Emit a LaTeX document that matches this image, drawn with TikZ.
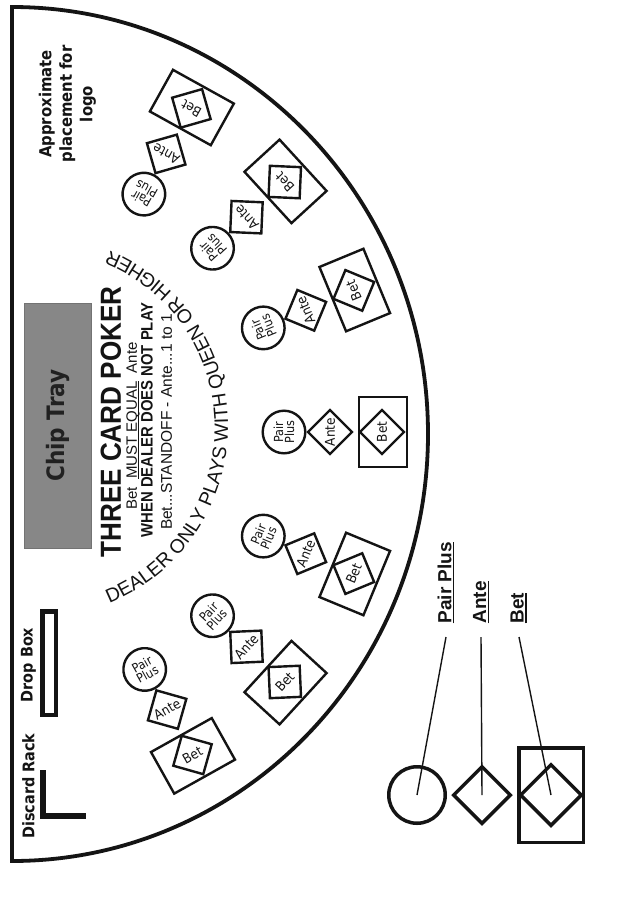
\documentclass[tikz,border=0pt]{standalone}
\usepackage{fontspec}
\setmainfont{Liberation Sans}
\newfontfamily\tah[FakeStretch=0.9]{DejaVu Sans}
\newfontfamily\narrowb[FakeStretch=0.9]{Liberation Sans}
\usetikzlibrary{shapes.geometric,decorations.text}
\definecolor{traygray}{gray}{0.53}
\definecolor{ink}{gray}{0.08}
\newcommand{\thickul}[2]{\setbox0\hbox{#2}\rlap{\rule[-#1]{\wd0}{1.4pt}}\box0}
\newcommand{\betspot}[2]{%
  \node[ppcirc, rotate=#1+90] (pp#2) at ([shift={(#1:272)}]O) {Pair\\Plus};
  \node[antedia, rotate=#1+90] (ante#2) at ([shift={(#1:318)}]O) {Ante};
  \node[betrect, rotate=#1+90] (betbox#2) at ([shift={(#1:371)}]O) {};
  \node[betdia, rotate=#1+90] (bet#2) at ([shift={(#1:370)}]O) {Bet};
}
\begin{document}
\begin{tikzpicture}[x=1pt,y=1pt,
  spotline/.style={draw=ink, line width=2.4, inner sep=0pt, text=ink},
  ppcirc/.style={spotline, circle, minimum size=42.6, align=center, font=\tah\fontsize{12.5}{11}\selectfont},
  antedia/.style={spotline, diamond, minimum size=45, font=\tah\fontsize{13.5}{13}\selectfont},
  betrect/.style={spotline, rectangle, minimum width=69.6, minimum height=47.6},
  betdia/.style={spotline, diamond, minimum size=45, font=\tah\fontsize{13.5}{13}\selectfont},
  legline/.style={draw=ink, line width=3.5, inner sep=0pt},
  leglabel/.style={rotate=90, anchor=west, text=ink, font=\bfseries\fontsize{19}{20}\selectfont},
  vtext/.style={rotate=90, text=ink, inner sep=0pt}
]
\useasboundingbox (0,0) rectangle (639,-899);
\fill[white] (0,0) rectangle (639,-899);
\coordinate (O) at (12,-432);
\coordinate (C) at (38,-427);
% table outline
\draw[ink, line width=3.8] (12,-7) -- (12,-861)
  arc[start angle=-90, end angle=90, x radius=416, y radius=427] -- cycle;
% chip tray
\node[rotate=90, fill=traygray, draw=traygray!85!black, line width=0.6,
  minimum width=245, minimum height=67, inner sep=0pt,
  text={rgb,1:red,0.13;green,0.13;blue,0.13},
  font=\tah\bfseries\fontsize{24}{24}\selectfont] (tray) at (57.5,-425.5) {Chip Tray};
% title block
\node[vtext, font=\narrowb\bfseries\fontsize{29}{30}\selectfont] (title) at (111,-422) {THREE CARD POKER};
\node[vtext, font=\fontsize{15}{16}\selectfont] (must) at (133,-426) {Bet\ \ \thickul{2.6pt}{MUST EQUAL}\ \ Ante};
\node[vtext, font=\narrowb\bfseries\fontsize{16.5}{18}\selectfont] (when) at (147,-420) {WHEN DEALER DOES NOT PLAY};
\node[vtext, font=\fontsize{15.5}{16}\selectfont] (standoff) at (166.5,-422) {Bet...STANDOFF - Ante...1 to 1};
% curved text
\path[decorate, decoration={text along path, text align=center,
  text color=ink,
  text={|\fontsize{19.5}{19.5}\selectfont|DEALER ONLY PLAYS WITH QUEEN OR HIGHER}}]
  ([shift={(-69:190)}]C) arc[start angle=-69, end angle=69, radius=190];
% logo text
\node[vtext, align=center, font=\tah\bfseries\fontsize{16.5}{20.5}\selectfont] (logo) at (67.5,-104) {Approximate\\placement for\\logo};
% drop box and discard rack
\node[draw=ink, line width=4.5, minimum width=13.5, minimum height=103.5, inner sep=0pt] (dropbox) at (49,-663) {};
\node[vtext, font=\tah\bfseries\fontsize{16}{16}\selectfont] (droplbl) at (28.5,-665) {Drop Box};
\draw[ink, line width=6] (43,-770) -- (43,-816) -- (86,-816);
\node[vtext, font=\tah\bfseries\fontsize{16}{16}\selectfont] (discardlbl) at (28.5,-786) {Discard Rack};
% betting spots
\betspot{61}{1}
\betspot{42.5}{2}
\betspot{22.5}{3}
\betspot{0}{4}
\betspot{-22.5}{5}
\betspot{-42.5}{6}
\betspot{-60.8}{7}
% legend
\node[legline, circle, minimum size=56.5] (legpp) at (417,-795) {};
\node[legline, diamond, minimum size=58] (legante) at (482,-795) {};
\node[legline, rectangle, minimum width=64.5, minimum height=94.5] (legbetbox) at (551,-795) {};
\node[legline, diamond, minimum size=62] (legbet) at (551,-795) {};
\node[leglabel] (lblpp) at (446,-627) {\thickul{3pt}{Pair Plus}};
\node[leglabel] (lblante) at (481,-627) {\thickul{3pt}{Ante}};
\node[leglabel] (lblbet) at (518.5,-627) {\thickul{3pt}{Bet}};
\coordinate (ppstart) at (446,-637);
\coordinate (antestart) at (481,-637);
\coordinate (betstart) at (519,-637);
\draw[ink, line width=1.4] (ppstart) -- (legpp.center);
\draw[ink, line width=1.4] (antestart) -- (legante.center);
\draw[ink, line width=1.4] (betstart) -- (legbet.center);
\end{tikzpicture}
\end{document}
